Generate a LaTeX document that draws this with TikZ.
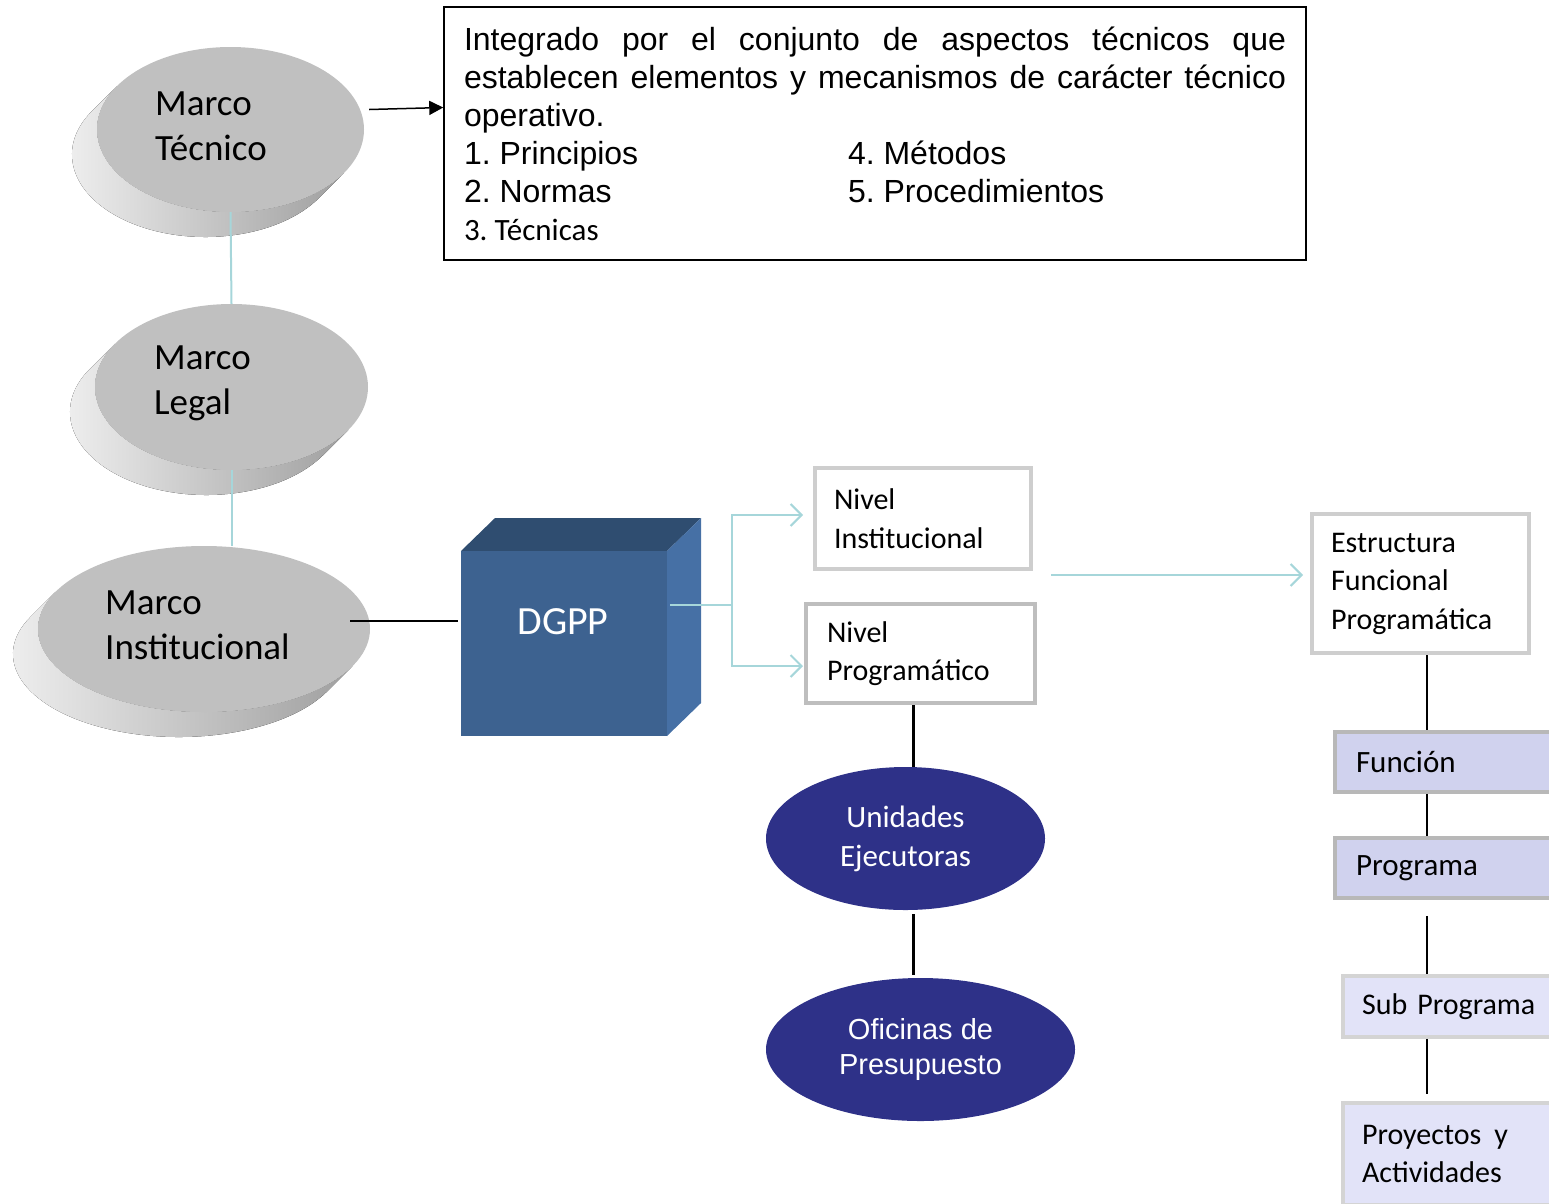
\documentclass[tikz,border=0pt]{standalone}
\usepackage{fontspec}
\setmainfont{Carlito}
\newfontfamily\arial{Liberation Sans}
\usetikzlibrary{shapes.geometric,arrows.meta}
\frenchspacing
\definecolor{celeste}{RGB}{166,214,218}
\definecolor{gris}{RGB}{192,192,192}
\definecolor{frente}{RGB}{61,98,144}
\definecolor{techo}{RGB}{47,77,112}
\definecolor{costado}{RGB}{70,112,165}
\definecolor{azulosc}{RGB}{46,49,136}
\definecolor{lila}{RGB}{208,210,238}
\definecolor{lilaclaro}{RGB}{226,227,248}
\definecolor{borde1}{RGB}{206,206,206}
\definecolor{borde2}{RGB}{190,190,190}
\definecolor{borde3}{RGB}{184,184,184}
\definecolor{borde4}{RGB}{212,212,212}

% disco inclinado: nombre, x, y, radio x, radio y
\newcommand{\disco}[5]{%
  \pgfmathsetmacro\angdisco{atan(#5/#4)}
  \fill[ladodisco] (#2,#3) ++(180-\angdisco:#4 and #5) -- ++(-25,-25)
    arc[start angle=180-\angdisco, end angle=360-\angdisco, x radius=#4, y radius=#5]
    -- ++(25,25)
    arc[start angle=360-\angdisco, end angle=180-\angdisco, x radius=#4, y radius=#5] -- cycle;
  \node[caradisco, minimum width=2*#4pt, minimum height=2*#5pt] (#1) at (#2,#3) {};
}

\begin{document}
\begin{tikzpicture}[x=1pt, y=1pt,
    caradisco/.style={ellipse, fill=gris, inner sep=0pt},
    ladodisco/.style={left color=gray!10, right color=gray!75},
    txtdisco/.style={anchor=west, align=left, inner sep=0pt, font=\fontsize{37}{45}\selectfont},
    nivel/.style={draw=#1, line width=4pt, fill=white, align=left, inner ysep=0pt, font=\fontsize{30}{38.5}\selectfont},
    estrato/.style 2 args={draw=#1, fill=#2, line width=3.5pt, align=left, inner ysep=0pt},
    ovalo/.style={ellipse, fill=azulosc, text=white, inner sep=0pt, align=center},
    linea/.style={line width=2pt},
    celestelinea/.style={draw=celeste, line width=2pt},
    flecha/.style={-{Straight Barb[length=11pt,width=22pt]}}]
  \useasboundingbox (0,0) rectangle (1549,-1203);
  \clip (0,0) rectangle (1549,-1203);

  % marcos
  \disco{tec}{230.5}{-129.5}{133.5}{82.5}
  \disco{leg}{231.5}{-387}{136.5}{83}
  \disco{ins}{204}{-629}{166}{83}
  \node[txtdisco] (tectxt) at (155,-126) {Marco\\Técnico};
  \node[txtdisco] (legtxt) at (154,-383) {Marco\\Legal};
  \node[txtdisco] (instxt) at (105,-625) {Marco\\Institucional};

  \node[draw, line width=1.5pt, text width=822pt, inner xsep=20pt, minimum height=253pt,
        align=justify, font=\arial\fontsize{32}{38}\selectfont] (caja) at (875,-133.5)
    {Integrado por el conjunto de aspectos técnicos que\linebreak
     establecen elementos y mecanismos de carácter técnico\linebreak
     operativo.\\
     \makebox[384pt][l]{1. Principios}4. Métodos\\
     \makebox[384pt][l]{2. Normas}5. Procedimientos\\
     {\rmfamily\fontsize{31}{38}\selectfont 3. Técnicas}};

  % DGPP
  \fill[techo] (461,-551) -- (495,-518) -- (701,-518) -- (667,-551) -- cycle;
  \fill[costado] (667,-551) -- (701,-518) -- (701,-703) -- (667,-736) -- cycle;
  \node[fill=frente, minimum width=206pt, minimum height=185pt, inner sep=0pt] (dgpp) at (564,-643.5) {};
  \node[text=white, font=\fontsize{40}{48}\selectfont] (dgpptxt) at (563,-622) {DGPP};

  \node[nivel=borde1, text width=178pt, inner xsep=19pt, minimum height=101pt] (ninst) at (923,-518.5) {Nivel\\Institucional};
  \node[nivel=borde2, text width=187pt, inner xsep=21pt, minimum height=99pt] (nprog) at (920.5,-653.5) {Nivel\\Programático};
  \node[nivel=borde1, text width=179pt, inner xsep=19pt, minimum height=139pt] (estr) at (1420.5,-583.5) {Estructura\\Funcional\\Programática};

  \node[ovalo, minimum width=279pt, minimum height=143pt, font=\fontsize{31}{39}\selectfont] (ueje) at (905.5,-838.5) {Unidades\\Ejecutoras};
  \node[ovalo, minimum width=309pt, minimum height=143pt, font=\arial\fontsize{29}{35}\selectfont] (ofic) at (920.5,-1049.5) {Oficinas de\\Presupuesto};

  % estructura programatica
  \node[estrato={borde3}{lila}, text width=223pt, inner xsep=21pt, minimum height=60pt, font=\fontsize{31}{38}\selectfont] (func) at (1467.5,-762) {Función};
  \node[estrato={borde3}{lila}, text width=223pt, inner xsep=21pt, minimum height=60pt, font=\fontsize{31}{38}\selectfont] (prog) at (1467.5,-868) {Programa};
  \node[estrato={borde4}{lilaclaro}, text width=219pt, inner xsep=19pt, minimum height=61pt, font=\fontsize{30}{38}\selectfont] (subp) at (1471.5,-1006.5) {Sub Programa};
  \node[estrato={borde4}{lilaclaro}, text width=219pt, inner xsep=19pt, minimum height=102pt, font=\fontsize{30}{38}\selectfont] (proy) at (1471.5,-1154) {Proyectos\hspace{13pt}y\\Actividades};

  \draw[celestelinea] (tec.south) -- (leg.north);
  \draw[celestelinea] (leg.south) -- (leg.south |- ins.north);
  \draw[line width=1.5pt, -{Triangle[length=14pt,width=14pt]}] ([xshift=5pt,yshift=20pt]tec.east) -- ([yshift=26pt]caja.west);
  \draw[line width=1.5pt] ([xshift=-20pt,yshift=8pt]ins.east) -- ([xshift=-3pt,yshift=22.5pt]dgpp.west);

  \coordinate (rama) at (732,-605);
  \draw[celestelinea] ([xshift=3pt,yshift=38.5pt]dgpp.east) -- (rama);
  \draw[celestelinea, flecha] (rama) |- ([xshift=-10pt,yshift=3.5pt]ninst.west);
  \draw[celestelinea, flecha] (rama) |- ([xshift=-1pt,yshift=-12.5pt]nprog.west);
  \draw[celestelinea, flecha] ([xshift=18pt,yshift=-56.5pt]ninst.east) -- ([xshift=-7pt,yshift=8.5pt]estr.west);

  \draw[line width=3pt] ([xshift=-7.5pt]nprog.south) -- ([xshift=-7.5pt]nprog.south |- ueje.north);
  \draw[line width=3pt] ([xshift=7.5pt,yshift=-4pt]ueje.south) -- ([xshift=-7.5pt,yshift=3pt]ofic.north);

  \coordinate (eje) at (1427,-653);
  \draw[linea] (eje |- estr.south) -- (eje |- func.north);
  \draw[linea] (eje |- func.south) -- (eje |- prog.north);
  \draw[linea, shorten <=16pt] (eje |- prog.south) -- (eje |- subp.north);
  \draw[linea, shorten >=7pt] (eje |- subp.south) -- (eje |- proy.north);
\end{tikzpicture}
\end{document}
